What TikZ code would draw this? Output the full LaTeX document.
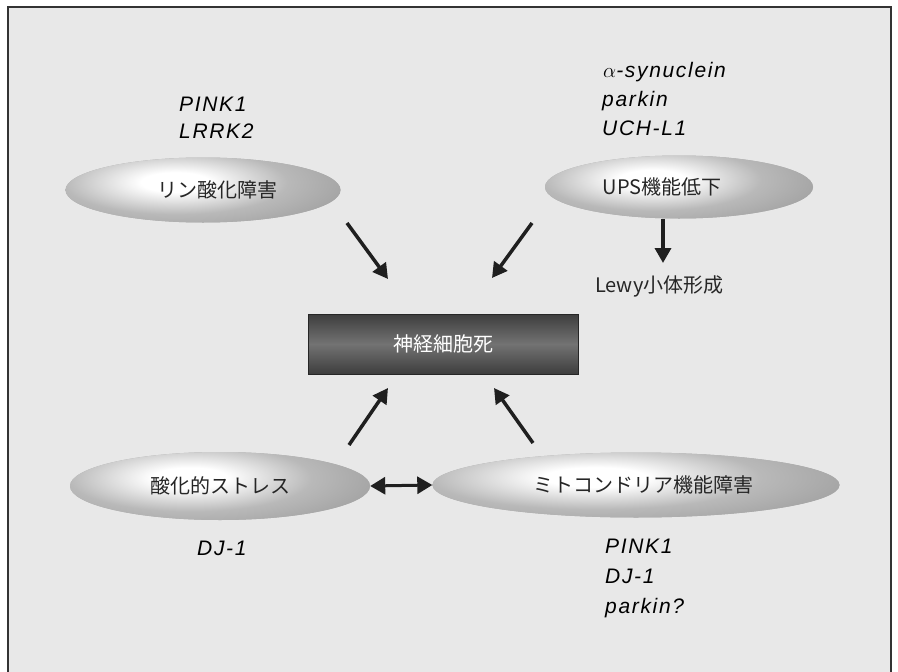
\documentclass[tikz,border=0pt]{standalone}
\usepackage{fontspec}
\setmainfont{Liberation Sans}
\newfontfamily\jp{Noto Sans CJK JP}
\newfontfamily\genefont[LetterSpace=8]{Liberation Sans}
\usetikzlibrary{shapes.geometric,arrows.meta,calc}
\pgfdeclareradialshading{blobshade}{\pgfpoint{0bp}{0bp}}{%
  color(0bp)=(white); color(4bp)=(white); color(13bp)=(gray!55); color(25bp)=(gray!82); color(50bp)=(gray!82)}
\begin{document}
\begin{tikzpicture}[x=1pt,y=-1pt,
  gene/.style={font=\genefont\itshape\fontsize{21}{25}\selectfont, anchor=base west, inner sep=0pt},
  jlab/.style={font=\jp\fontsize{20}{24}\selectfont, text=black!85},
  blob/.style n args={2}{ellipse, minimum width=#1, minimum height=#2, inner sep=0pt, fill=gray!65, jlab,
    path picture={\shade[shading=blobshade]
      ([xshift=-0.1*#1, yshift=0.12*#2]path picture bounding box.center)
      ellipse [x radius={0.78*#1pt}, y radius={0.95*#2pt}];}},
  box/.style={rectangle, minimum width=270, minimum height=60, draw=black!85, line width=0.8pt,
    top color=black!76, bottom color=black!76, middle color=black!55,
    font=\jp\fontsize{20}{24}\selectfont, text=white},
  arr/.style={line width=3.5pt, draw=black!88, -{Triangle[length=15pt,width=16pt]}},
  darr/.style={line width=3pt, draw=black!88, {Triangle[length=15pt,width=17pt]}-{Triangle[length=15pt,width=17pt]}}
]
\useasboundingbox (0,0) rectangle (898,672);
% frame and background
\fill[gray!18] (8,7) rectangle (891,700);
\draw[line width=1.5pt, black!80] (8,700) -- (8,7) -- (891,7) -- (891,700);

% ellipses
\node[blob={275}{65}] (e1) at (203,190) {\hspace*{28pt}リン酸化障害};
\node[blob={268}{63}] (e2) at (679,187) {UPS機能低下\hspace*{34pt}};
\node[blob={300}{68}] (e3) at (220,486) {酸化的ストレス};
\node[blob={407}{65}] (e4) at (636,485) {\hspace*{14pt}ミトコンドリア機能障害};

% central box
\node[box] (c) at (443,344) {神経細胞死};

% gene labels
\node[gene] (g1a) at (179,111) {PINK1};
\node[gene] (g1b) at (179,138) {LRRK2};
\node[gene] (g2a) at (603,77) {$\alpha$-synuclein};
\node[gene] (g2b) at (602,106) {parkin};
\node[gene] (g2c) at (602,135) {UCH-L1};
\node[gene] (g3a) at (197,555) {DJ-1};
\node[gene] (g4a) at (605,553) {PINK1};
\node[gene] (g4b) at (605,583) {DJ-1};
\node[gene] (g4c) at (605,613) {parkin?};

% Lewy body
\node[jlab, anchor=base west, inner sep=0pt] (lewy) at (595,292) {Lewy小体形成};

% arrow end points
\coordinate (a1s) at (347,223); \coordinate (a1e) at (388,279);
\coordinate (a2s) at (532,223); \coordinate (a2e) at (492,278);
\coordinate (a3s) at (349,445); \coordinate (a3e) at (388,388);
\coordinate (a4s) at (533,443); \coordinate (a4e) at (494,388);
\coordinate (l1s) at (663,219); \coordinate (l1e) at (663,263);

\draw[arr] (a1s) -- (a1e);
\draw[arr] (a2s) -- (a2e);
\draw[arr] (a3s) -- (a3e);
\draw[arr] (a4s) -- (a4e);
\draw[arr] (l1s) -- (l1e);
\draw[darr] (e3.east) -- (e4.west);
\end{tikzpicture}
\end{document}
